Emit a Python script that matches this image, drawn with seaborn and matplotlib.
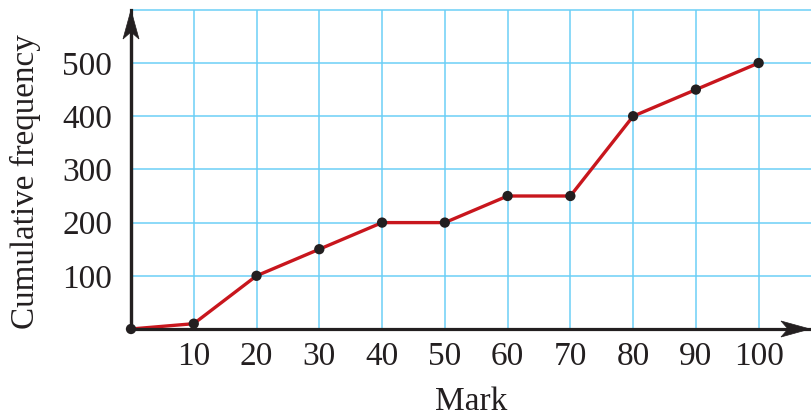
import matplotlib
matplotlib.use("Agg")
import matplotlib.pyplot as plt
from matplotlib.patches import Polygon
from matplotlib.transforms import IdentityTransform
import seaborn as sns
import pandas as pd

# Cumulative frequency of marks
marks = [0, 10, 20, 30, 40, 50, 60, 70, 80, 90, 100]
cum_freq = [0, 10, 100, 150, 200, 200, 250, 250, 400, 450, 500]

x_ticks = [0, 10, 20, 30, 40, 50, 60, 70, 80, 90, 100]
x_tick_labels = ["", "10", "20", "30", "40", "50", "60", "70", "80", "90", "100"]
y_ticks = [0, 100, 200, 300, 400, 500]
y_tick_labels = ["", "100", "200", "300", "400", "500"]
y_minor = [50, 150, 250, 350, 450]

sns.set_style("white")
plt.rcParams["font.family"] = ["Liberation Serif", "DejaVu Serif"]

INK = "#231f20"
GRID = "#6ccff6"
LINE = "#c8161d"

W, H = 812, 418
fig = plt.figure(figsize=(W / 100, H / 100), dpi=100)
x0_px, x1_px, y0_px, y1_px = 131, 812, 329, 9.8
ax = fig.add_axes([x0_px / W, 1 - y0_px / H, (x1_px - x0_px) / W, (y0_px - y1_px) / H])

xmax, ymax = 108.5, 600
ax.set_xlim(0, xmax)
ax.set_ylim(0, ymax)

# light blue grid in the first quadrant
for gx in range(10, 101, 10):
    ax.axvline(gx, color=GRID, lw=1.1, zorder=0)
for gy in range(100, 601, 100):
    ax.axhline(gy, color=GRID, lw=1.1, zorder=0, clip_on=False)

df = pd.DataFrame({"Mark": marks, "Cumulative frequency": cum_freq})
sns.lineplot(data=df, x="Mark", y="Cumulative frequency", ax=ax,
             color=LINE, lw=2.4, zorder=3, clip_on=False)
sns.scatterplot(data=df, x="Mark", y="Cumulative frequency", ax=ax,
                color=INK, s=55, edgecolor="none", zorder=4, clip_on=False)

for side in ["top", "right"]:
    ax.spines[side].set_visible(False)
for side in ["left", "bottom"]:
    ax.spines[side].set_color(INK)
    ax.spines[side].set_linewidth(2.3)
    ax.spines[side].set_zorder(5)

ax.set_xticks(x_ticks)
ax.set_xticklabels(x_tick_labels)
ax.set_yticks(y_ticks)
ax.set_yticklabels(y_tick_labels)
ax.set_yticks(y_minor, minor=True)
ax.tick_params(axis="both", which="major", direction="out", color=INK,
               width=2.3, labelsize=24, labelcolor=INK)
ax.tick_params(axis="x", which="major", length=7, pad=2)
ax.tick_params(axis="y", which="major", length=7.5, pad=6)
ax.tick_params(axis="y", which="minor", direction="out", length=4.5,
               width=2.3, color=INK)

ax.set_xlabel("Mark", fontsize=24, color=INK, labelpad=10.5)
ylab = ax.set_ylabel("Cumulative frequency", fontsize=24, color=INK)

# fit the rotated axis title to the height it should span
fig.canvas.draw()
span = ylab.get_window_extent().height
ylab.set_fontsize(24 * 296 / span)
ax.yaxis.set_label_coords((41 - x0_px) / (x1_px - x0_px), (y0_px - 182) / (y0_px - y1_px))

# arrowheads at the ends of both axes
fig.canvas.draw()
ox, oy = ax.transData.transform((0, 0))
L, hw, notch = 29, 8, 7
ty_tip = H - 10
fig.add_artist(Polygon([(ox, ty_tip), (ox - hw, ty_tip - L), (ox, ty_tip - L + notch),
                        (ox + hw, ty_tip - L)], closed=True, fc=INK, ec=INK, lw=0.5,
                       transform=IdentityTransform()))
fig.add_artist(plt.Line2D([ox, ox], [oy, ty_tip - L + notch], color=INK, lw=2.3,
                          transform=IdentityTransform()))
rx_tip = 810
fig.add_artist(Polygon([(rx_tip, oy), (rx_tip - L, oy + hw), (rx_tip - L + notch, oy),
                        (rx_tip - L, oy - hw)], closed=True, fc=INK, ec=INK, lw=0.5,
                       transform=IdentityTransform()))

fig.savefig("out.png", dpi=100)
